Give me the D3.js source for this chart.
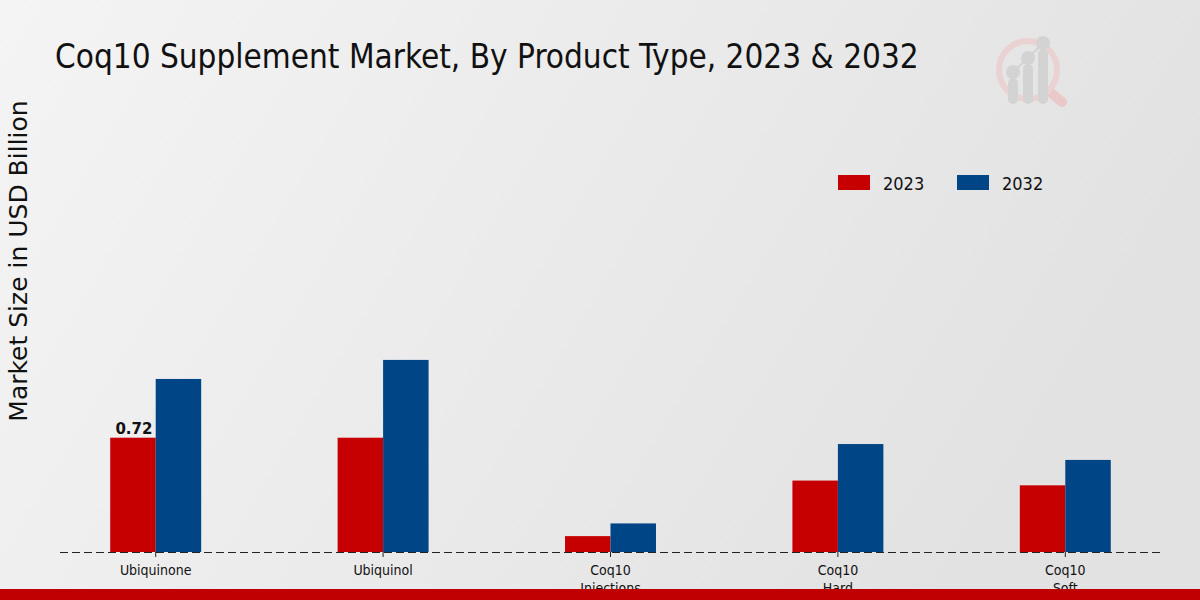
<!DOCTYPE html>
<html><head><meta charset="utf-8">
<script src="https://cdn.jsdelivr.net/npm/d3@7"></script>
<style>body{margin:0;padding:0;overflow:hidden}svg{display:block}</style>
</head><body><svg id="c" width="1200" height="600"></svg>
<script>
const categories = ["Ubiquinone", "Ubiquinol", "Coq10 Injections", "Coq10 Hard", "Coq10 Soft"];
const categoryLines = [["Ubiquinone"], ["Ubiquinol"], ["Coq10", "Injections"], ["Coq10", "Hard"], ["Coq10", "Soft"]];
const seriesNames = ["2023", "2032"];
const values2023 = [0.72, 0.72, 0.10, 0.45, 0.42];
const values2032 = [1.09, 1.21, 0.18, 0.68, 0.58];
const labelShown = [0.72, null, null, null, null];

const colors = {"2023": "#C60000", "2032": "#004586"};
const svg = d3.select("#c");
const W = 1200, H = 600;
const condensed = "DejaVu Sans Condensed, DejaVu Sans";

// background gradient
const defs = svg.append("defs");
const g = defs.append("linearGradient").attr("id", "bg").attr("x1", "0%").attr("y1", "0%").attr("x2", "100%").attr("y2", "30%");
g.append("stop").attr("offset", "0%").attr("stop-color", "#f4f4f4");
g.append("stop").attr("offset", "100%").attr("stop-color", "#e2e2e2");
svg.append("rect").attr("width", W).attr("height", H).attr("fill", "url(#bg)");

// logo (faint)
const logo = svg.append("g").attr("opacity", 0.9);
logo.append("line").attr("x1", 1050).attr("y1", 92).attr("x2", 1062).attr("y2", 102).attr("stroke", "#ecc6c6").attr("stroke-width", 10).attr("stroke-linecap", "round");
logo.append("circle").attr("cx", 1028).attr("cy", 70).attr("r", 29).attr("fill", "none").attr("stroke", "#ecd0d0").attr("stroke-width", 6);
[[1013, 72], [1028, 58], [1043, 43]].forEach(([x, y]) => {
  logo.append("rect").attr("x", x - 5).attr("y", y + 6).attr("width", 10).attr("height", 104 - y - 6).attr("rx", 5).attr("fill", "#d2d2d2");
  logo.append("circle").attr("cx", x).attr("cy", y).attr("r", 7).attr("fill", "#d2d2d2");
});
logo.append("polyline").attr("points", "1013,72 1028,58 1043,43").attr("fill", "none").attr("stroke", "#d2d2d2").attr("stroke-width", 2);

// title
svg.append("text").attr("x", 55).attr("y", 68)
  .attr("font-family", condensed).attr("font-stretch", "condensed")
  .attr("font-size", 33).attr("fill", "#111")
  .text("Coq10 Supplement Market, By Product Type, 2023 & 2032");

// scales
const x = d3.scaleBand().domain(categories).range([42, 1179]).paddingInner(0.6).paddingOuter(0.3);
const xs = d3.scaleBand().domain(seriesNames).range([0, x.bandwidth()]);
const y = d3.scaleLinear().domain([0, 2.8]).range([552, 552 - 2.8 * 158.75]);

const data = categories.map((c, i) => ({cat: c, vals: [values2023[i], values2032[i]]}));

const groups = svg.append("g").selectAll("g").data(data).join("g")
  .attr("transform", d => `translate(${x(d.cat)},0)`);
groups.selectAll("rect").data(d => d.vals.map((v, j) => ({s: seriesNames[j], v})))
  .join("rect")
  .attr("x", d => xs(d.s)).attr("width", xs.bandwidth())
  .attr("y", d => y(d.v)).attr("height", d => y(0) - y(d.v))
  .attr("fill", d => colors[d.s]);

// value label
categories.forEach((c, i) => {
  if (labelShown[i] != null) {
    svg.append("text").attr("x", x(c) + xs("2023") + xs.bandwidth() / 2 + 1).attr("y", y(values2023[i]) - 4)
      .attr("text-anchor", "middle").attr("font-family", "DejaVu Sans").attr("font-weight", "bold")
      .attr("font-size", 15).attr("fill", "#111").text(labelShown[i].toFixed(2));
  }
});

// baseline dashed
svg.append("line").attr("x1", 60).attr("x2", 1160).attr("y1", y(0) + 0.5).attr("y2", y(0) + 0.5)
  .attr("stroke", "#222").attr("stroke-width", 1).attr("stroke-dasharray", "8,4");

// x axis ticks & labels
const xAxisG = svg.append("g").attr("transform", `translate(0,${y(0)})`)
  .call(d3.axisBottom(x).tickSize(5).tickFormat(""));
xAxisG.select(".domain").remove();
xAxisG.selectAll(".tick line").attr("stroke", "#222");
categories.forEach((c, i) => {
  const t = svg.append("text").attr("x", x(c) + x.bandwidth() / 2).attr("y", 575)
    .attr("text-anchor", "middle").attr("font-family", condensed)
    .attr("font-stretch", "condensed").attr("font-size", 14).attr("fill", "#111");
  categoryLines[i].forEach((ln, k) => t.append("tspan").attr("x", x(c) + x.bandwidth() / 2).attr("dy", k === 0 ? 0 : 18).text(ln));
});

// y axis title
svg.append("text").attr("transform", "translate(27,261) rotate(-90)").attr("text-anchor", "middle")
  .attr("font-family", "DejaVu Sans").attr("font-size", 25).attr("fill", "#111")
  .text("Market Size in USD Billion");

// legend
const lg = svg.append("g");
seriesNames.forEach((s, i) => {
  const lx = 838 + i * 119;
  lg.append("rect").attr("x", lx).attr("y", 175).attr("width", 32).attr("height", 15).attr("fill", colors[s]);
  lg.append("text").attr("x", lx + 45).attr("y", 190).attr("font-family", condensed)
    .attr("font-stretch", "condensed").attr("font-size", 18).attr("fill", "#111").text(s);
});

// bottom band
svg.append("rect").attr("x", 0).attr("y", 589).attr("width", W).attr("height", 11).attr("fill", "#C00000");
</script></body></html>
